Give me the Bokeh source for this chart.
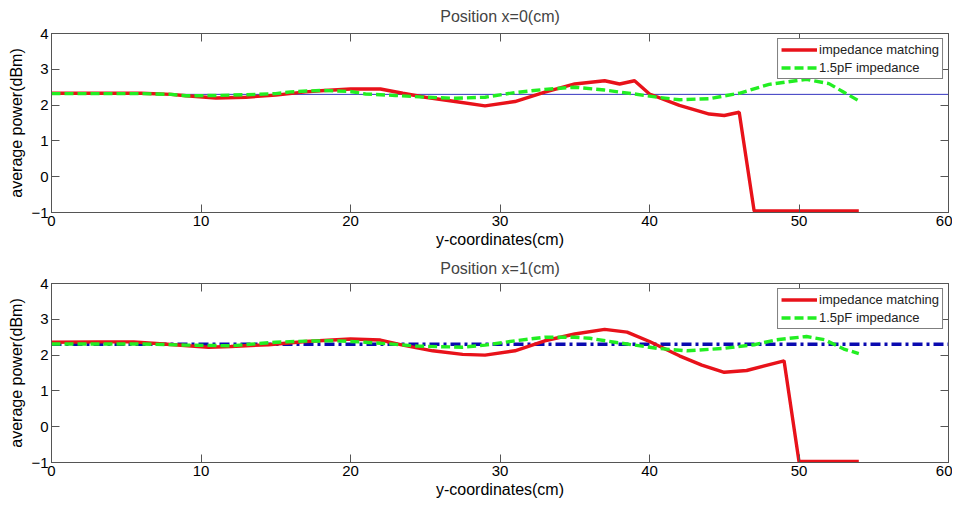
from bokeh.plotting import figure
from bokeh.layouts import column
from bokeh.models import LinearAxis, Legend, LegendItem, FixedTicker, Range1d
from bokeh.embed import file_html
from bokeh.resources import INLINE

# ---- data ----
titles = ["Position x=0(cm)", "Position x=1(cm)"]
legend_labels = ["impedance matching", "1.5pF impedance"]
x_ticks = [0, 10, 20, 30, 40, 50, 60]
y_ticks = [-1, 0, 1, 2, 3, 4]
baseline = 2.3

top_red_x = [0, 2, 4, 6, 8, 9, 11, 13, 15, 17, 18, 20, 22, 23.5, 25, 27, 29, 31, 33, 35, 37, 38, 39, 40, 42, 44, 45, 46, 47, 54]
top_red_y = [2.33, 2.33, 2.33, 2.33, 2.3, 2.26, 2.2, 2.22, 2.28, 2.37, 2.4, 2.45, 2.45, 2.33, 2.22, 2.1, 1.98, 2.1, 2.36, 2.59, 2.68, 2.59, 2.68, 2.31, 1.99, 1.75, 1.71, 1.80, -0.96, -0.96]

top_green_x = [0, 3, 6, 8, 9, 11, 13, 15, 16, 18, 20, 21, 23, 25, 27, 29, 31, 33, 35, 37, 39, 40.5, 42, 44, 46, 48, 50.5, 52, 53, 54]
top_green_y = [2.32, 2.32, 2.32, 2.3, 2.26, 2.27, 2.29, 2.32, 2.37, 2.41, 2.38, 2.31, 2.27, 2.22, 2.19, 2.22, 2.35, 2.44, 2.5, 2.42, 2.31, 2.22, 2.15, 2.18, 2.33, 2.58, 2.72, 2.6, 2.36, 2.12]

bot_red_x = [0, 3, 5.5, 7.5, 10.5, 12, 14.5, 17, 20, 22, 23.5, 25.5, 27.5, 29, 31, 33, 35, 37, 38.5, 40, 42, 43.5, 45, 46.5, 49, 50, 54]
bot_red_y = [2.36, 2.37, 2.37, 2.31, 2.22, 2.24, 2.29, 2.38, 2.45, 2.42, 2.28, 2.12, 2.02, 2.0, 2.12, 2.4, 2.59, 2.72, 2.64, 2.38, 1.98, 1.72, 1.52, 1.57, 1.84, -0.97, -0.97]

bot_green_x = [0, 3, 6, 9, 12, 15, 17, 19, 21, 23, 24.5, 27.5, 29, 31, 33, 35, 36, 38, 40.5, 42.5, 45, 47, 48.5, 50.5, 51.7, 53, 54]
bot_green_y = [2.31, 2.31, 2.31, 2.28, 2.26, 2.36, 2.39, 2.4, 2.36, 2.3, 2.25, 2.22, 2.28, 2.4, 2.5, 2.5, 2.47, 2.34, 2.19, 2.12, 2.19, 2.29, 2.43, 2.52, 2.43, 2.17, 2.04]

FONT = "Liberation Sans"
RED = "#e8121a"
GREEN = "#22ee22"
BLUE = "#0a0ab0"
AX = "#555555"


def style_axis(ax, labels=True):
    ax.axis_line_color = AX
    ax.major_tick_line_color = AX
    ax.major_tick_in = 8
    ax.major_tick_out = 0
    ax.minor_tick_line_color = None
    ax.major_label_text_font = FONT
    ax.axis_label_text_font = FONT
    ax.axis_label_text_font_style = "normal"
    ax.axis_label_text_color = "black"
    if labels:
        ax.major_label_text_font_size = "15px"
        ax.major_label_text_color = "black"
    else:
        ax.major_label_text_font_size = "1px"
        ax.major_label_text_color = None
        ax.major_label_standoff = 0


def make_plot(title, rx, ry, gx, gy, height, top_border, bottom_border, title_standoff, dashdot):
    p = figure(width=952, height=height, output_backend="svg", toolbar_location=None,
               x_range=Range1d(0, 60), y_range=Range1d(-1, 4),
               min_border_left=51, min_border_right=4, min_border_top=top_border,
               min_border_bottom=bottom_border)
    p.title.text = title
    p.title.align = "center"
    p.title.vertical_align = "top"
    p.title.text_font = FONT
    p.title.text_font_size = "16px"
    p.title.text_font_style = "normal"
    p.title.standoff = title_standoff
    p.xgrid.visible = False
    p.ygrid.visible = False
    p.outline_line_color = AX
    p.xaxis.ticker = FixedTicker(ticks=x_ticks)
    p.yaxis.ticker = FixedTicker(ticks=y_ticks)
    p.xaxis.axis_label = "y-coordinates(cm)"
    p.yaxis.axis_label = "average power(dBm)"
    style_axis(p.xaxis[0])
    style_axis(p.yaxis[0])
    p.xaxis.axis_label_text_font_size = "16px"
    p.yaxis.axis_label_text_font_size = "16px"
    p.xaxis.major_label_standoff = 3
    p.xaxis.axis_label_standoff = 2
    p.yaxis.major_label_standoff = 3
    p.yaxis.axis_label_standoff = 3

    ra = LinearAxis(ticker=FixedTicker(ticks=y_ticks))
    style_axis(ra, labels=False)
    p.add_layout(ra, "right")
    ta = LinearAxis(ticker=FixedTicker(ticks=x_ticks))
    style_axis(ta, labels=False)
    p.add_layout(ta, "above")

    if dashdot:
        p.line(x=[0, 60], y=[baseline, baseline], line_color=BLUE, line_width=3.5, line_dash="10 4 3 4")
    else:
        p.line(x=[0, 60], y=[baseline, baseline], line_color="#3535c0", line_width=1)

    r1 = p.line(rx, ry, line_color=RED, line_width=3.4)
    r2 = p.line(gx, gy, line_color=GREEN, line_width=3.4, line_dash="9 4")

    leg = Legend(items=[LegendItem(label=legend_labels[0], renderers=[r1]),
                        LegendItem(label=legend_labels[1], renderers=[r2])],
                 location="top_right")
    leg.label_text_font = FONT
    leg.label_text_font_size = "13px"
    leg.label_text_color = "#222222"
    leg.glyph_width = 36
    leg.glyph_height = 15
    leg.label_standoff = 2
    leg.label_height = 15
    leg.padding = 3
    leg.spacing = 3
    leg.margin = 5
    leg.border_line_color = "black"
    leg.border_line_width = 1
    leg.background_fill_alpha = 1
    p.add_layout(leg, "center")
    return p


p1 = make_plot(titles[0], top_red_x, top_red_y, top_green_x, top_green_y, 255, 33, 43, 14, False)
p2 = make_plot(titles[1], bot_red_x, bot_red_y, bot_green_x, bot_green_y, 250, 28, 43, 9, True)

layout = column(p1, p2, spacing=0)
open("out.html", "w").write(file_html(layout, INLINE))
